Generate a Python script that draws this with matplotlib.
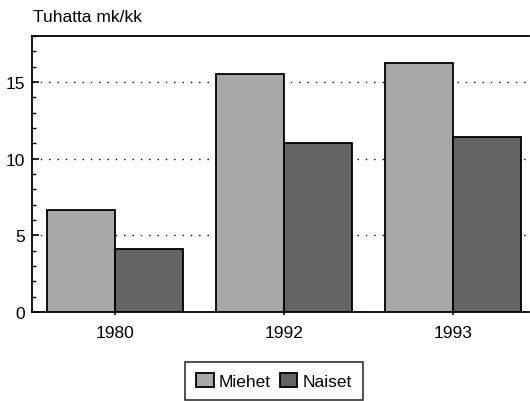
import numpy as np
import matplotlib
matplotlib.use("Agg")
import matplotlib.pyplot as plt
from matplotlib.ticker import MultipleLocator

years = ["1980", "1992", "1993"]
miehet = [6.67, 15.55, 16.22]
naiset = [4.10, 11.02, 11.39]

plt.rcParams['font.family'] = ['Liberation Sans', 'DejaVu Sans']
plt.rcParams['font.size'] = 12.5

fig = plt.figure(figsize=(5.30, 4.02), dpi=100)
ax = fig.add_axes([32 / 530, 1 - 313 / 402, 497 / 530, 276 / 402])

x = np.arange(len(years))
w = 0.4
ax.bar(x, miehet, width=-w, align="edge", color="#a8a8a8",
       edgecolor="black", linewidth=1.3, label="Miehet", zorder=3)
ax.bar(x, naiset, width=w, align="edge", color="#646464",
       edgecolor="black", linewidth=1.3, label="Naiset", zorder=3)

ax.set_xlim(-0.491, 2.45)
ax.set_ylim(0, 18)
ax.set_xticks(x)
ax.set_xticklabels(years)
ax.yaxis.set_major_locator(MultipleLocator(5))
ax.yaxis.set_minor_locator(MultipleLocator(1))
ax.yaxis.grid(True, which="major", color="black", linestyle=(0, (1, 5)),
              linewidth=1.0, zorder=1)

ax.tick_params(axis="y", which="major", direction="in", length=5, width=1.2,
               pad=5)
ax.tick_params(axis="y", which="minor", direction="in", length=3, width=1.0)
ax.tick_params(axis="x", direction="out", length=2.5, width=1.2, pad=7)

ax.spines["right"].set_visible(False)
for side in ["left", "top", "bottom"]:
    ax.spines[side].set_linewidth(1.3)

fig.text(33 / 530, 1 - 18 / 402, "Tuhatta mk/kk", ha="left", va="center",
         fontsize=12.5)

leg = fig.legend(loc="upper center", bbox_to_anchor=(274 / 530, 1 - 363 / 402),
                 ncol=2, frameon=True, fancybox=False, edgecolor="black",
                 handlelength=1.0, handleheight=0.8, handletextpad=0.3,
                 columnspacing=0.5, borderpad=0.65, borderaxespad=0,
                 fontsize=12.5)
leg.get_frame().set_linewidth(1.2)

fig.savefig("out.png", dpi=100)
